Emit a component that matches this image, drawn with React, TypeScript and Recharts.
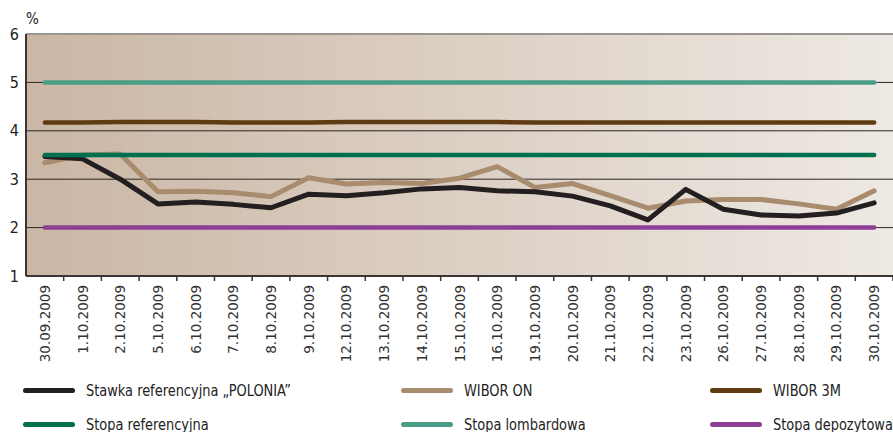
import React from 'react';
import { LineChart, Line, XAxis, YAxis, CartesianGrid, ReferenceLine } from 'recharts';

const dates = [
    '30.09.2009', '1.10.2009', '2.10.2009', '5.10.2009', '6.10.2009', '7.10.2009',
    '8.10.2009', '9.10.2009', '12.10.2009', '13.10.2009', '14.10.2009', '15.10.2009',
    '16.10.2009', '19.10.2009', '20.10.2009', '21.10.2009', '22.10.2009', '23.10.2009',
    '26.10.2009', '27.10.2009', '28.10.2009', '29.10.2009', '30.10.2009',
];

const polonia = [3.47, 3.42, 3.0, 2.49, 2.53, 2.48, 2.41, 2.69, 2.66, 2.72, 2.8, 2.83, 2.76, 2.74, 2.65, 2.45, 2.16, 2.79, 2.38, 2.26, 2.24, 2.3, 2.51];
const wiborOn = [3.34, 3.5, 3.52, 2.74, 2.75, 2.72, 2.64, 3.03, 2.9, 2.93, 2.91, 3.02, 3.26, 2.83, 2.91, 2.66, 2.4, 2.55, 2.58, 2.58, 2.49, 2.38, 2.76];
const wibor3m = [4.17, 4.17, 4.18, 4.18, 4.18, 4.17, 4.17, 4.17, 4.18, 4.18, 4.18, 4.18, 4.18, 4.17, 4.17, 4.17, 4.17, 4.17, 4.17, 4.17, 4.17, 4.17, 4.17];
const stopaRef = [3.5, 3.5, 3.5, 3.5, 3.5, 3.5, 3.5, 3.5, 3.5, 3.5, 3.5, 3.5, 3.5, 3.5, 3.5, 3.5, 3.5, 3.5, 3.5, 3.5, 3.5, 3.5, 3.5];
const stopaLomb = [5, 5, 5, 5, 5, 5, 5, 5, 5, 5, 5, 5, 5, 5, 5, 5, 5, 5, 5, 5, 5, 5, 5];
const stopaDep = [2, 2, 2, 2, 2, 2, 2, 2, 2, 2, 2, 2, 2, 2, 2, 2, 2, 2, 2, 2, 2, 2, 2];

const yTicks = [1, 2, 3, 4, 5, 6];

const series = [
    { key: 'wiborOn', name: 'WIBOR ON', color: '#a98b6e', values: wiborOn },
    { key: 'polonia', name: 'Stawka referencyjna „POLONIA”', color: '#231f20', values: polonia },
    { key: 'wibor3m', name: 'WIBOR 3M', color: '#5f3b12', values: wibor3m },
    { key: 'stopaRef', name: 'Stopa referencyjna', color: '#00704f', values: stopaRef },
    { key: 'stopaLomb', name: 'Stopa lombardowa', color: '#4a9d87', values: stopaLomb },
    { key: 'stopaDep', name: 'Stopa depozytowa', color: '#8d3f97', values: stopaDep },
];

// legend order as in the original (row by row)
const legendOrder = ['polonia', 'wiborOn', 'wibor3m', 'stopaRef', 'stopaLomb', 'stopaDep'];

const data = dates.map((d, i) => {
    const row: Record<string, string | number> = { date: d };
    series.forEach((s) => { row[s.key] = s.values[i]; });
    return row;
});

const W = 893;
const H = 432;
const LEFT = 26;
const BAND = (W - LEFT) / dates.length;
const narrow = '"DejaVu Sans Condensed", "Roboto", sans-serif';

const DateTick = (props: any) => {
    const { x, y, payload } = props;
    const tx = x + BAND / 2;
    return (
        <g>
            <line x1={tx} y1={y} x2={tx} y2={y + 5} stroke="#3c3535" strokeWidth={1.5} />
            <text
                x={x}
                y={y + 9}
                transform={`rotate(-90 ${x} ${y + 9})`}
                textAnchor="end"
                dominantBaseline="central"
                fontFamily='"DejaVu Sans", sans-serif'
                fontSize={13.5}
                fill="#333"
            >
                {payload.value}
            </text>
        </g>
    );
};

const App: React.FC = () => {
    return (
        <div style={{ position: 'absolute', left: 0, top: 0, width: W, height: H, background: '#fff', overflow: 'hidden' }}>
            <div style={{ position: 'absolute', left: 26, top: 10, fontFamily: narrow, fontSize: 15, color: '#222' }}>%</div>
            <LineChart width={W} height={H} data={data} margin={{ top: 34, right: 0, left: 0, bottom: 56 }}>
                <defs>
                    <linearGradient id="plotBg" x1="0" y1="0" x2="1" y2="0">
                        <stop offset="0%" stopColor="#cab6a4" />
                        <stop offset="100%" stopColor="#eee9e3" />
                    </linearGradient>
                </defs>
                <CartesianGrid vertical={false} stroke="#2a2424" strokeWidth={1} fill="url(#plotBg)" fillOpacity={1} />
                <ReferenceLine y={6} stroke="#9a9590" strokeWidth={2} />
                <XAxis
                    dataKey="date"
                    interval={0}
                    height={100}
                    padding={{ left: BAND / 2, right: BAND / 2 }}
                    tickLine={false}
                    tickSize={0}
                    tickMargin={0}
                    axisLine={{ stroke: '#3c3535', strokeWidth: 2 }}
                    tick={<DateTick />}
                />
                <YAxis
                    width={LEFT}
                    domain={[1, 6]}
                    ticks={yTicks}
                    interval={0}
                    tickLine={false}
                    tickSize={0}
                    tickMargin={7}
                    axisLine={{ stroke: '#3c3535', strokeWidth: 2 }}
                    tick={{ fill: '#222', fontSize: 16, fontFamily: narrow }}
                />
                {series.map((s) => (
                    <Line
                        key={s.key}
                        dataKey={s.key}
                        stroke={s.color}
                        strokeWidth={s.key === 'polonia' || s.key === 'wiborOn' ? 5 : 4.5}
                        strokeLinecap="round"
                        strokeLinejoin="round"
                        dot={false}
                        activeDot={false}
                        type="linear"
                        isAnimationActive={false}
                    />
                ))}
            </LineChart>
            {legendOrder.map((k, i) => {
                const s = series.find((x) => x.key === k)!;
                const col = i % 3;
                const row = Math.floor(i / 3);
                const lefts = [23, 401, 710];
                return (
                    <div
                        key={k}
                        style={{
                            position: 'absolute',
                            left: lefts[col],
                            top: 390 + row * 34 - 10,
                            height: 20,
                            display: 'flex',
                            alignItems: 'center',
                            fontFamily: narrow,
                            fontSize: 16,
                            color: '#222',
                            whiteSpace: 'nowrap',
                        }}
                    >
                        <span style={{ display: 'inline-block', width: 52, height: 5, borderRadius: 3, background: s.color, marginRight: 11 }} />
                        <span style={{ display: 'inline-block', transform: 'scaleX(0.9)', transformOrigin: 'left center' }}>{s.name}</span>
                    </div>
                );
            })}
        </div>
    );
};

export default App;
